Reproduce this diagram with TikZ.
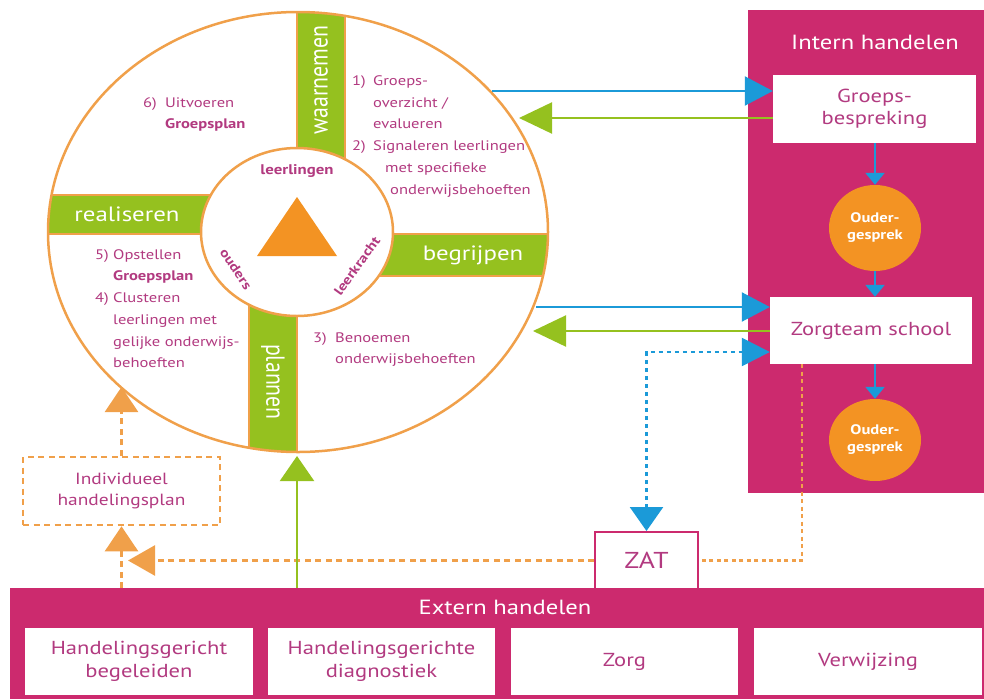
\documentclass[tikz,border=0pt]{standalone}
\usepackage{fontspec}
\setmainfont{PT Sans}[FakeStretch=1.2]
\newfontfamily\plainfont{PT Sans}
\usetikzlibrary{shapes.geometric,arrows.meta,calc}
\definecolor{mag}{HTML}{CC2A6E}
\definecolor{txt}{HTML}{B23A80}
\definecolor{grn}{HTML}{95C11F}
\definecolor{org}{HTML}{F39323}
\definecolor{orl}{HTML}{F0A04A}
\definecolor{blu}{HTML}{1B9AD8}
\begin{document}
\begin{tikzpicture}[x=1pt,y=-1pt,
  qt/.style={anchor=base west,inner sep=0pt,text=txt,font=\fontsize{13.8}{16}\selectfont},
  qb/.style={qt,font=\fontsize{13.8}{16}\selectfont\bfseries},
  cl/.style={inner sep=0pt,text=txt,font=\fontsize{14}{16}\selectfont\bfseries},
  clr/.style={inner sep=0pt,text=txt,font=\fontsize{13.2}{15}\selectfont\bfseries},
  barlbl/.style={inner sep=0pt,text=white,font=\fontsize{20.7}{24}\selectfont},
  vlbl/.style={inner sep=0pt,text=white,font=\plainfont\fontsize{21.8}{24}\selectfont},
  wbox/.style={fill=white,inner sep=0pt,text=txt,align=center,font=\fontsize{18.8}{22.5}\selectfont},
  ttl/.style={inner sep=0pt,text=white,font=\fontsize{20.5}{23}\selectfont},
  ouder/.style={ellipse,fill=org,inner sep=0pt,minimum width=92pt,minimum height=86pt,text=white,align=center,font=\fontsize{13.8}{17}\selectfont\bfseries},
  bline/.style={blu,line width=2.2pt},
  gline/.style={grn,line width=2.2pt},
  oline/.style={orl,line width=2.6pt,dash pattern=on 6pt off 4.5pt},
  bigblue/.style={bline,-{Triangle[length=28pt,width=29pt]}},
  biggreen/.style={gline,-{Triangle[length=33pt,width=31pt]}},
  smallblue/.style={bline,-{Triangle[length=12pt,width=19pt]}},
  orangearrow/.style={oline,-{Triangle[length=25pt,width=33pt]}}
]
\useasboundingbox (0,0) rectangle (984,699);

% ---------- cycle ----------
\fill[white] (298,232) ellipse [x radius=250pt, y radius=220pt];
\begin{scope}
  \clip (298,232) ellipse [x radius=250pt, y radius=220pt];
  \fill[grn] (297,0) rectangle (345,232);
  \fill[grn] (297,234) rectangle (560,276);
  \fill[grn] (249,232) rectangle (297,470);
  \fill[grn] (30,195) rectangle (297,234);
  \draw[orl,line width=2pt] (297,0) -- (297,232) (345,0) -- (345,234)
    (297,234) -- (560,234) (297,276) -- (560,276)
    (249,232) -- (249,470) (297,276) -- (297,470)
    (30,195) -- (297,195) (30,234) -- (297,234);
\end{scope}
\node[ellipse,draw=orl,line width=2.5pt,minimum width=500pt,minimum height=440pt,inner sep=0pt] (cyc) at (298,232) {};
\node[ellipse,draw=orl,fill=white,line width=2.5pt,minimum width=192pt,minimum height=168pt,inner sep=0pt] (inner) at (297,232) {};
\fill[org] (297,197) -- (257,256) -- (337,256) -- cycle;

\node[cl] (lrl) at (297,171) {leerlingen};
\node[clr,rotate=-56] (oud) at (236,269) {ouders};
\node[clr,rotate=54] (lkr) at (357,266) {leerkracht};

\begin{scope}[shift={(321,80)},xscale=1.2]
  \node[vlbl,rotate=90,transform shape] (wn) at (0,0) {waarnemen};
\end{scope}
\begin{scope}[shift={(273,382)},xscale=1.2]
  \node[vlbl,rotate=-90,transform shape] (pl) at (0,0) {plannen};
\end{scope}
\node[barlbl] (rl) at (127,214) {realiseren};
\node[barlbl] (bg) at (473,255) {begrijpen};

% quadrant texts
\node[qt] (t1) at (143,107) {6)};
\node[qt] (t2) at (165,107) {Uitvoeren};
\node[qb] (t3) at (165,128) {Groepsplan};

\node[qt] (t4) at (352,85) {1)};
\node[qt] (t5) at (373,85) {Groeps-};
\node[qt] (t6) at (373,107) {overzicht /};
\node[qt] (t7) at (373,128) {evalueren};
\node[qt] (t8) at (352,150) {2)};
\node[qt] (t9) at (373,150) {Signaleren leerlingen};
\node[qt] (t10) at (385,172) {met specifieke};
\node[qt] (t11) at (390,194) {onderwijsbehoeften};

\node[qt] (t12) at (95,259) {5)};
\node[qt] (t13) at (113,259) {Opstellen};
\node[qb] (t14) at (113,280) {Groepsplan};
\node[qt] (t15) at (95,302) {4)};
\node[qt] (t16) at (113,302) {Clusteren};
\node[qt] (t17) at (113,324) {leerlingen met};
\node[qt] (t18) at (113,346) {gelijke onderwijs-};
\node[qt] (t19) at (113,367) {behoeften};

\node[qt] (t20) at (313,342) {3)};
\node[qt] (t21) at (335,342) {Benoemen};
\node[qt] (t22) at (335,363) {onderwijsbehoeften};

% ---------- intern handelen ----------
\node[fill=mag,inner sep=0pt,minimum width=236pt,minimum height=483pt,anchor=north west] (intp) at (748,10) {};
\node[ttl] (ititle) at (875,42) {Intern handelen};
\node[wbox,minimum width=203pt,minimum height=68pt] (gb) at (874.5,109) {Groeps-\\bespreking};
\node[ouder] (og1) at (875,228) {Ouder-\\gesprek};
\node[wbox,minimum width=202pt,minimum height=67pt] (zs) at (871,330.5) {Zorgteam school};
\node[ouder,minimum height=82pt] (og2) at (875,440) {Ouder-\\gesprek};

\draw[smallblue] (gb.south -| og1.north) -- (og1.north);
\draw[smallblue] (og1.south) -- (og1.south |- zs.north);
\draw[smallblue] (zs.south -| og2.north) -- (og2.north);

% ---------- extern handelen ----------
\node[fill=mag,inner sep=0pt,minimum width=974pt,minimum height=111pt,anchor=north west] (ext) at (10,588) {};
\node[ttl] (etitle) at (505,607) {Extern handelen};
\node[wbox,minimum width=228pt,minimum height=67pt] (e1) at (139,661.5) {Handelingsgericht\\begeleiden};
\node[wbox,minimum width=227pt,minimum height=67pt] (e2) at (381.5,661.5) {Handelingsgerichte\\diagnostiek};
\node[wbox,minimum width=227pt,minimum height=67pt] (e3) at (624.5,661.5) {Zorg};
\node[wbox,minimum width=228pt,minimum height=67pt] (e4) at (868,661.5) {Verwijzing};

\node[fill=white,draw=mag,line width=2pt,inner sep=0pt,minimum width=103pt,minimum height=57pt,text=txt,font=\fontsize{23}{26}\selectfont] (zat) at (646.5,560.5) {ZAT};

\node[draw=orl,line width=2.6pt,dash pattern=on 6pt off 4.5pt,inner sep=0pt,minimum width=197pt,minimum height=68pt,text=txt,align=center,font=\fontsize{16.2}{20.5}\selectfont] (ih) at (121.5,491) {Individueel\\handelingsplan};

% ---------- connectors ----------
\coordinate (p1) at (492,91);
\coordinate (p2) at (519,118);
\coordinate (p3) at (536,307);
\coordinate (p4) at (533,331);
\coordinate (p5) at (646.5,352);
\coordinate (p6) at (802,0);
\coordinate (p7) at (128,0);
\coordinate (p9) at (0,387);
\coordinate (p10) at (297,456);

\draw[bigblue] (p1) -- (p1 -| gb.west);
\draw[biggreen] (gb.west |- p2) -- (p2);
\draw[bigblue] (p3) -- (p3 -| zs.west);
\draw[biggreen] (zs.west |- p4) -- (p4);
\draw[blu,line width=2.6pt,dash pattern=on 4pt off 4pt,
  {Triangle[length=24pt,width=33pt]}-{Triangle[length=28pt,width=28pt]}]
  (zat.north) -- (p5) -- (p5 -| zs.west);

\draw[oline,dash pattern=on 4pt off 3.5pt] (zs.south -| p6) |- (zat.east);
\draw[orangearrow,-{Triangle[length=27pt,width=30pt]}] (zat.west) -- (zat.west -| p7);
\draw[orangearrow] (ih.south |- ext.north) -- (ih.south);
\draw[orangearrow] (ih.north) -- (ih.north |- p9);
\draw[gline,-{Triangle[length=25pt,width=34pt]}] (p10 |- ext.north) -- (p10);
\end{tikzpicture}
\end{document}
